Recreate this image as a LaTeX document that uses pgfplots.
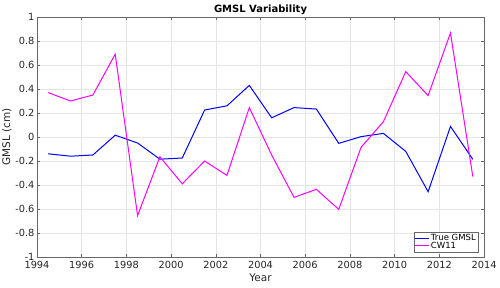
\documentclass[border=0pt]{standalone}
\usepackage{fontspec}
\setmainfont{DejaVu Sans}
\usepackage{pgfplots}
\pgfplotsset{compat=1.18}
\definecolor{axgray}{rgb}{0.15,0.15,0.15}
\definecolor{gridgray}{rgb}{0.9,0.9,0.9}
\definecolor{myblue}{rgb}{0,0,1}
\definecolor{mymag}{rgb}{1,0,1}
\begin{document}
\begin{tikzpicture}[x=1pt,y=1pt]
\useasboundingbox (-37,-30) rectangle (463,257);
\begin{axis}[
  at={(0,0)}, anchor=south west,
  scale only axis, width=447pt, height=240pt,
  xmin=1994, xmax=2014, ymin=-1, ymax=1,
  xtick={1994,1996,...,2014},
  ytick={-1,-0.8,...,1},
  yticklabels={-1,-0.8,-0.6,-0.4,-0.2,0,0.2,0.4,0.6,0.8,1},
  xticklabel style={/pgf/number format/1000 sep={}, yshift=-1pt},
  yticklabel style={xshift=1pt},
  /pgf/number format/assume math mode=true,
  tick label style={font=\fontsize{9.8}{10}\selectfont, text=axgray},
  grid=major,
  major grid style={gridgray, line width=0.4pt},
  axis line style={axgray!70, line width=0.5pt},
  tick style={axgray!70, line width=0.5pt},
  major tick length=3pt,
  tick align=inside,
  title={\textbf{GMSL Variability}},
  title style={font=\fontsize{10}{11}\selectfont, yshift=-7pt},
  xlabel={Year}, ylabel={GMSL (cm)},
  label style={font=\fontsize{10.5}{11}\selectfont, text=axgray},
  xlabel style={yshift=2pt},
  ylabel style={yshift=-3pt},
  legend style={at={(rel axis cs:1,0)}, anchor=south east, xshift=-6pt, yshift=5pt,
    font=\fontsize{8.5}{9}\selectfont, draw=axgray!70, fill=white,
    inner sep=0.5pt, row sep=-3pt, nodes={inner sep=1.5pt}},
  legend cell align=left,
  legend image code/.code={\draw[#1] (0pt,0pt) -- (14pt,0pt);},
]
\addplot[draw=myblue, line width=1pt] coordinates {
(1994.5,-0.14) (1995.5,-0.16) (1996.5,-0.15) (1997.5,0.015) (1998.5,-0.05)
(1999.5,-0.185) (2000.5,-0.175) (2001.5,0.225) (2002.5,0.26) (2003.5,0.43)
(2004.5,0.16) (2005.5,0.245) (2006.5,0.233) (2007.5,-0.053) (2008.5,0.003)
(2009.5,0.03) (2010.5,-0.12) (2011.5,-0.456) (2012.5,0.088) (2013.5,-0.186)};
\addlegendentry{True GMSL}
\addplot[draw=mymag, line width=1pt] coordinates {
(1994.5,0.37) (1995.5,0.30) (1996.5,0.35) (1997.5,0.69) (1998.5,-0.655)
(1999.5,-0.165) (2000.5,-0.39) (2001.5,-0.20) (2002.5,-0.32) (2003.5,0.245)
(2004.5,-0.15) (2005.5,-0.503) (2006.5,-0.436) (2007.5,-0.603) (2008.5,-0.086)
(2009.5,0.128) (2010.5,0.545) (2011.5,0.345) (2012.5,0.867) (2013.5,-0.33)};
\addlegendentry{CW11}
\end{axis}
\end{tikzpicture}
\end{document}
